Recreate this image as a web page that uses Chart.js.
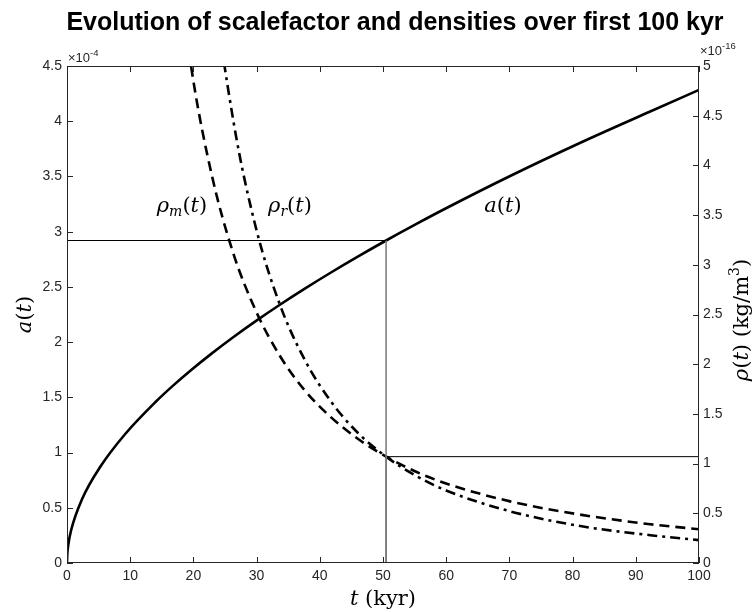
<!DOCTYPE html>
<html><head><meta charset="utf-8">
<script src="https://cdn.jsdelivr.net/npm/chart.js@4"></script>
<style>html,body{margin:0;padding:0;background:#fff}#wrap{width:753px;height:612px}</style>
</head><body><div id="wrap"><canvas id="c" width="753" height="612"></canvas></div>
<script>
// time in kyr
const tKyr = [0, 0.05, 0.2, 0.63, 2.43, 5.32, 9.21, 14.04, 16.78, 19.75, 22.92, 26.29, 29.86, 33.62, 37.57, 41.70, 46.01, 50.49, 55.15, 59.98, 70.12, 80.89, 92.28, 100];
// scale factor a(t), units of 1e-4
const scaleFactor = [0, 0.081, 0.163, 0.292, 0.584, 0.876, 1.168, 1.46, 1.606, 1.752, 1.898, 2.044, 2.19, 2.336, 2.482, 2.628, 2.774, 2.92, 3.066, 3.212, 3.504, 3.796, 4.088, 4.284];
// densities, units of 1e-16 kg/m^3
const rhoMatter = [null, null, null, null, null, null, null, null, 6.43, 4.95, 3.90, 3.12, 2.54, 2.09, 1.74, 1.47, 1.25, 1.07, 0.92, 0.80, 0.62, 0.49, 0.39, 0.34];
const rhoRadiation = [null, null, null, null, null, null, null, null, null, 8.26, 5.99, 4.46, 3.38, 2.61, 2.05, 1.63, 1.31, 1.07, 0.88, 0.73, 0.52, 0.375, 0.28, 0.23];
// matter-radiation equality
const eqTime = 50.49;
const eqScale = 2.92;
const eqDensity = 1.07;
// tick values
const xTicks = [0, 10, 20, 30, 40, 50, 60, 70, 80, 90, 100];
const leftTicks = [0, 0.5, 1, 1.5, 2, 2.5, 3, 3.5, 4, 4.5];
const rightTicks = [0, 0.5, 1, 1.5, 2, 2.5, 3, 3.5, 4, 4.5, 5];

const pts = (ys) => tKyr.map((t, i) => ({x: t, y: ys[i]}));
const AX = '#262626';
const SERIF = "'DejaVu Serif'";

function rich(ctx, segs, x, y, align) {
  let w = 0;
  segs.forEach(s => { ctx.font = s.f; w += ctx.measureText(s.t).width; });
  let cx = align === 'center' ? x - w / 2 : (align === 'right' ? x - w : x);
  ctx.textAlign = 'left'; ctx.textBaseline = 'alphabetic';
  segs.forEach(s => { ctx.font = s.f; ctx.fillText(s.t, cx, y + (s.dy || 0)); cx += ctx.measureText(s.t).width; });
}

const deco = {
  id: 'deco',
  afterDraw(chart) {
    const ctx = chart.ctx, a = chart.chartArea;
    const xs = chart.scales.x, yl = chart.scales.yL, yr = chart.scales.yR;
    ctx.save();
    ctx.strokeStyle = AX; ctx.lineWidth = 1;
    ctx.strokeRect(a.left + 0.5, a.top + 0.5, a.right - a.left - 1, a.bottom - a.top - 1);
    const L = 6;
    ctx.beginPath();
    xTicks.forEach(v => { const p = Math.round(xs.getPixelForValue(v)) + 0.5;
      ctx.moveTo(p, a.bottom); ctx.lineTo(p, a.bottom - L); ctx.moveTo(p, a.top); ctx.lineTo(p, a.top + L); });
    leftTicks.forEach(v => { const p = Math.round(yl.getPixelForValue(v)) + 0.5; ctx.moveTo(a.left, p); ctx.lineTo(a.left + L, p); });
    rightTicks.forEach(v => { const p = Math.round(yr.getPixelForValue(v)) + 0.5; ctx.moveTo(a.right, p); ctx.lineTo(a.right - L, p); });
    ctx.stroke();
    ctx.fillStyle = '#000';
    // title
    rich(ctx, [{t: 'Evolution of scalefactor and densities over first 100 kyr', f: "bold 25px 'Liberation Sans'"}], 395, 30, 'center');
    // exponents
    ctx.fillStyle = AX;
    rich(ctx, [{t: '×10', f: "13px 'Liberation Sans'"}, {t: '-4', f: "9.5px 'Liberation Sans'", dy: -6}], a.left + 1, a.top - 4, 'left');
    rich(ctx, [{t: '×10', f: "13px 'Liberation Sans'"}, {t: '-16', f: "9.5px 'Liberation Sans'", dy: -6}], a.right + 1, a.top - 11, 'left');
    ctx.fillStyle = '#000';
    const it = "italic 21px " + SERIF, up = "21px " + SERIF, sub = "italic 14px " + SERIF;
    // x title
    rich(ctx, [{t: 't', f: it}, {t: ' (kyr)', f: up}], (a.left + a.right) / 2, 605, 'center');
    // left title
    ctx.save(); ctx.translate(31, (a.top + a.bottom) / 2); ctx.rotate(-Math.PI / 2);
    rich(ctx, [{t: 'a', f: it}, {t: '(', f: up}, {t: 't', f: it}, {t: ')', f: up}], 0, 0, 'center');
    ctx.restore();
    // right title
    ctx.save(); ctx.translate(748, 320); ctx.rotate(-Math.PI / 2);
    rich(ctx, [{t: 'ρ', f: it}, {t: '(', f: up}, {t: 't', f: it}, {t: ') (kg/m', f: up}, {t: '3', f: "14px " + SERIF, dy: -9}, {t: ')', f: up}], 0, 0, 'center');
    ctx.restore();
    // curve labels
    rich(ctx, [{t: 'ρ', f: it}, {t: 'm', f: sub, dy: 4}, {t: '(', f: up}, {t: 't', f: it}, {t: ')', f: up}], 182, 212, 'center');
    rich(ctx, [{t: 'ρ', f: it}, {t: 'r', f: sub, dy: 4}, {t: '(', f: up}, {t: 't', f: it}, {t: ')', f: up}], 290, 212, 'center');
    rich(ctx, [{t: 'a', f: it}, {t: '(', f: up}, {t: 't', f: it}, {t: ')', f: up}], 503, 212, 'center');
    ctx.restore();
  }
};

const tickFont = {family: 'Liberation Sans', size: 14};
const fmt = v => String(v);
new Chart(document.getElementById('c'), {
  type: 'line',
  data: {
    datasets: [
      {data: [{x: 0, y: eqScale}, {x: eqTime, y: eqScale}], yAxisID: 'yL', borderColor: '#000', borderWidth: 1, pointRadius: 0},
      {data: [{x: eqTime, y: 0}, {x: eqTime, y: eqScale}], yAxisID: 'yL', borderColor: '#808080', borderWidth: 1.6, pointRadius: 0},
      {data: [{x: eqTime, y: 0}, {x: eqTime, y: eqDensity}], yAxisID: 'yR', borderColor: '#000', borderWidth: 1, pointRadius: 0},
      {data: [{x: eqTime, y: eqDensity}, {x: 100, y: eqDensity}], yAxisID: 'yR', borderColor: '#000', borderWidth: 1, pointRadius: 0},
      {label: 'a(t)', data: pts(scaleFactor), yAxisID: 'yL', borderColor: '#000', borderWidth: 2.6, pointRadius: 0, cubicInterpolationMode: 'monotone'},
      {label: 'rho_m', data: pts(rhoMatter), yAxisID: 'yR', borderColor: '#000', borderWidth: 2.6, borderDash: [10, 6], pointRadius: 0, cubicInterpolationMode: 'monotone', spanGaps: false},
      {label: 'rho_r', data: pts(rhoRadiation), yAxisID: 'yR', borderColor: '#000', borderWidth: 2.6, borderDash: [10, 5, 3, 5], pointRadius: 0, cubicInterpolationMode: 'monotone', spanGaps: false}
    ]
  },
  options: {
    responsive: false, animation: false, devicePixelRatio: 1,
    layout: {padding: {top: 66, left: 0, right: 0, bottom: 0}},
    plugins: {legend: {display: false}, tooltip: {enabled: false}, title: {display: false}},
    scales: {
      x: {type: 'linear', min: 0, max: 100, afterBuildTicks: s => { s.ticks = xTicks.map(v => ({value: v})); },
        grid: {display: false, drawTicks: false}, border: {display: false},
        ticks: {font: tickFont, color: AX, padding: 5, maxRotation: 0, callback: fmt}, afterFit: s => { s.height = 49; }},
      yL: {type: 'linear', position: 'left', min: 0, max: 4.5, afterBuildTicks: s => { s.ticks = leftTicks.map(v => ({value: v})); },
        grid: {display: false, drawTicks: false}, border: {display: false},
        ticks: {font: tickFont, color: AX, padding: 5, callback: fmt}, afterFit: s => { s.width = 67; }},
      yR: {type: 'linear', position: 'right', min: 0, max: 5, afterBuildTicks: s => { s.ticks = rightTicks.map(v => ({value: v})); },
        grid: {display: false, drawTicks: false}, border: {display: false},
        ticks: {font: tickFont, color: AX, padding: 4, callback: fmt}, afterFit: s => { s.width = 54; }}
    }
  },
  plugins: [deco]
});
</script></body></html>
